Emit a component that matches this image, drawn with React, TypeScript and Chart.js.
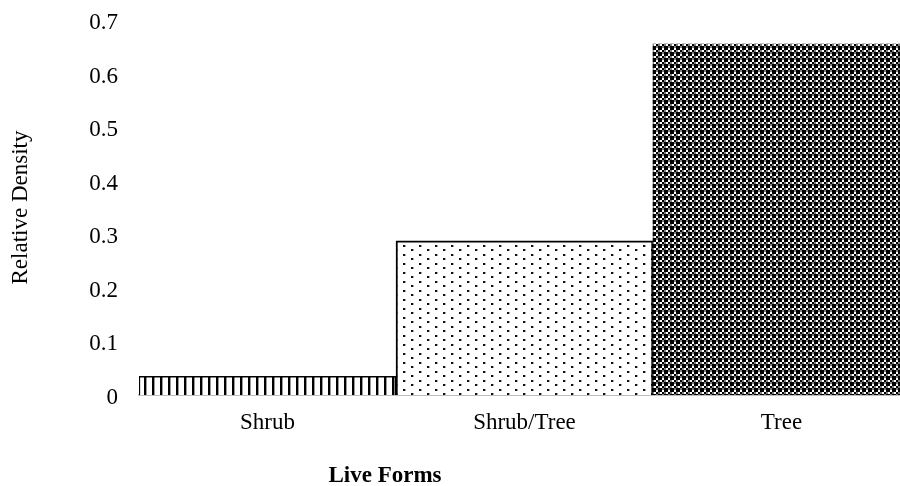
import React, { useEffect, useRef } from "react";
import { Chart, registerables } from "chart.js";

Chart.register(...registerables);

const categories = ["Shrub", "Shrub/Tree", "Tree"];
const relativeDensity = [0.035, 0.288, 0.655];
const yTickValues = [0, 0.1, 0.2, 0.3, 0.4, 0.5, 0.6, 0.7];
const xAxisTitle = "Live Forms";
const yAxisTitle = "Relative Density";

const FONT = "'Liberation Serif', 'Times New Roman', serif";

function makeStripePattern(): CanvasPattern | string {
  const c = document.createElement("canvas");
  c.width = 8;
  c.height = 4;
  const g = c.getContext("2d");
  if (!g) return "#000";
  g.fillStyle = "#fff";
  g.fillRect(0, 0, 8, 4);
  g.fillStyle = "#000";
  g.fillRect(0, 0, 2, 4);
  g.fillStyle = "#999";
  g.fillRect(2, 0, 1, 4);
  return g.createPattern(c, "repeat") || "#000";
}

function makeDotPattern(): CanvasPattern | string {
  const c = document.createElement("canvas");
  c.width = 16;
  c.height = 9;
  const g = c.getContext("2d");
  if (!g) return "#fff";
  g.fillStyle = "#fff";
  g.fillRect(0, 0, 16, 9);
  g.fillStyle = "#111";
  g.fillRect(3, 2, 2, 2);
  g.fillRect(11, 6, 2, 2);
  g.fillStyle = "#aaa";
  g.fillRect(5, 2, 1, 2);
  g.fillRect(13, 6, 1, 2);
  return g.createPattern(c, "repeat") || "#fff";
}

function makeCheckerPattern(): CanvasPattern | string {
  const c = document.createElement("canvas");
  c.width = 6;
  c.height = 6;
  const g = c.getContext("2d");
  if (!g) return "#444";
  g.fillStyle = "#fff";
  g.fillRect(0, 0, 6, 6);
  for (let i = 0; i < 3; i++) {
    for (let j = 0; j < 3; j++) {
      if ((i + j) % 2 === 0) {
        g.fillStyle = "#000";
        g.fillRect(i * 2, j * 2, 2, 2);
      } else if (i === 2 || j === 2) {
        g.fillStyle = "#808080";
        g.fillRect(i * 2, j * 2, 2, 2);
      }
    }
  }
  return g.createPattern(c, "repeat") || "#444";
}

const xTitlePlugin = {
  id: "xTitlePlugin",
  afterDraw(chart: any) {
    const ctx = chart.ctx;
    const xs = chart.scales.x;
    const x = (xs.getPixelForValue(0) + xs.getPixelForValue(1)) / 2 - 11;
    ctx.save();
    ctx.font = `bold 23px ${FONT}`;
    ctx.fillStyle = "#000";
    ctx.textAlign = "center";
    ctx.textBaseline = "middle";
    ctx.fillText(xAxisTitle, x, 476);
    ctx.restore();
  },
};

export default function App() {
  const ref = useRef<HTMLCanvasElement | null>(null);

  useEffect(() => {
    const canvas = ref.current;
    if (!canvas) return;
    const chart = new Chart(canvas, {
      type: "bar",
      data: {
        labels: categories,
        datasets: [
          {
            label: yAxisTitle,
            data: relativeDensity,
            backgroundColor: [makeStripePattern(), makeDotPattern(), makeCheckerPattern()] as any,
            borderColor: "#000",
            borderWidth: [1.5, 2, 0],
            borderSkipped: "start",
            barPercentage: 1,
            categoryPercentage: 1,
          },
        ],
      },
      options: {
        responsive: false,
        animation: false,
        layout: { padding: { left: 0, right: 10, top: 20, bottom: 0 } },
        plugins: {
          legend: { display: false },
          tooltip: { enabled: false },
          title: { display: false },
        },
        scales: {
          x: {
            grid: { display: false, drawTicks: false },
            border: { display: true, color: "#bfbfbf", width: 2 },
            ticks: {
              color: "#000",
              font: { family: FONT, size: 23 },
              padding: 14,
              maxRotation: 0,
            },
            afterFit(scale: any) {
              scale.height = 91;
              scale.paddingLeft = 0;
              scale.paddingRight = 0;
            },
          },
          y: {
            min: 0,
            max: 0.7,
            afterBuildTicks(scale: any) {
              scale.ticks = yTickValues.map((v) => ({ value: v }));
            },
            grid: { display: false, drawTicks: false },
            border: { display: false },
            ticks: {
              color: "#000",
              font: { family: FONT, size: 23 },
              padding: 21,
              labelOffset: 3,
              callback: (v: any) => String(Math.round(Number(v) * 10) / 10),
            },
            title: {
              display: true,
              text: yAxisTitle,
              color: "#000",
              font: { family: FONT, size: 23 },
              padding: { top: 7, bottom: 0 },
            },
            afterFit(scale: any) {
              scale.width = 139;
              scale.paddingTop = 0;
              scale.paddingBottom = 0;
            },
          },
        },
      },
      plugins: [xTitlePlugin],
    });
    return () => chart.destroy();
  }, []);

  return (
    <div
      style={{
        position: "fixed",
        left: 0,
        top: 0,
        width: 900,
        height: 486,
        overflow: "hidden",
        background: "#fff",
      }}
    >
      <canvas ref={ref} width={920} height={486} style={{ width: 920, height: 486, display: "block" }} />
    </div>
  );
}
